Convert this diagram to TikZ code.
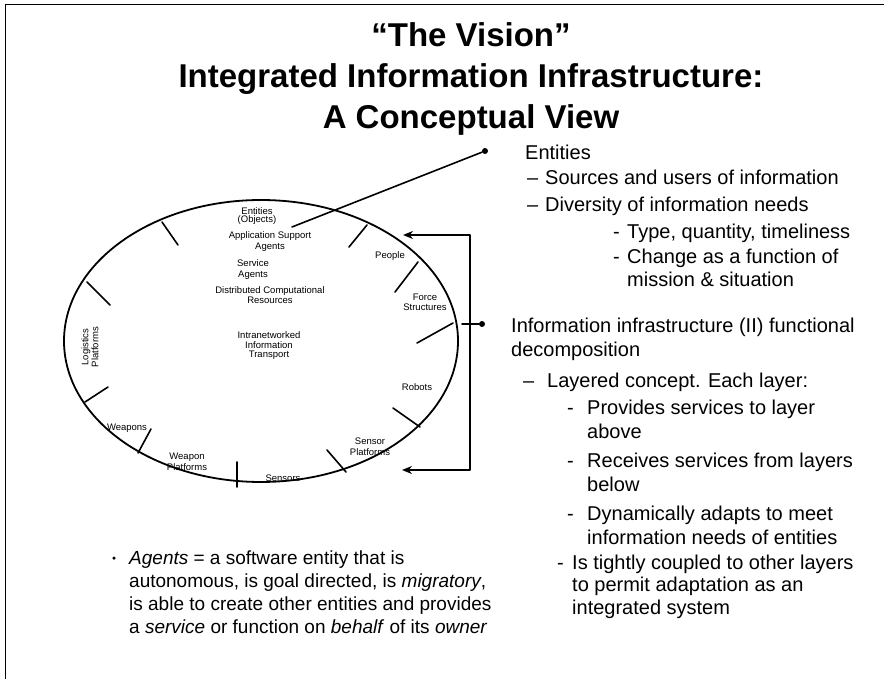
\documentclass[tikz,border=0pt]{standalone}
\usepackage{fontspec}
\setmainfont{Liberation Sans}
\usetikzlibrary{arrows.meta}

\tikzset{
  ring/.style={font=\fontsize{9.5}{9.5}\selectfont, align=center, inner sep=0pt},
  body/.style={font=\fontsize{20}{24}\selectfont, align=left, anchor=base west, inner sep=0pt},
  note/.style={font=\fontsize{19}{23}\selectfont, align=left, anchor=base west, inner sep=0pt},
  dot/.style={circle, fill=black, inner sep=0pt, minimum size=6pt},
  pointer/.style={line width=1.6pt}
}

\begin{document}
\begin{tikzpicture}[x=1pt, y=-1pt, line cap=round, line join=round]
\useasboundingbox (0,0) rectangle (884,679);

% Frame
\draw[line width=1pt] (5,679) -- (5,5) -- (884,5);

% Title (base = last line)
\node[font=\fontsize{33}{41}\selectfont\bfseries, align=center, anchor=base, inner sep=0pt]
  (title) at (471,129) {“The Vision”\\Integrated Information Infrastructure:\\A Conceptual View};

% Ring
\coordinate (ctr) at (261,341);
\draw[line width=1.8pt] (ctr) ellipse [x radius=197, y radius=141];

% Ticks
\draw[line width=1.6pt] (162,222) -- (178,245);
\draw[line width=1.6pt] (87,282) -- (110,305);
\draw[line width=1.6pt] (85,402) -- (108,387);
\draw[line width=1.6pt] (138,453) -- (151,429);
\draw[line width=1.6pt] (237,462) -- (237,487);
\draw[line width=1.6pt] (346,472) -- (327,450);
\draw[line width=1.6pt] (420,427) -- (393,408);
\draw[line width=1.6pt] (453,323) -- (417,343);
\draw[line width=1.6pt] (418,262) -- (395,292);
\draw[line width=1.6pt] (367,225) -- (349,247);

% Layers
\node[ring, font=\fontsize{9.5}{8.5}\selectfont] (objects) at (257,216) {Entities\\(Objects)};
\node[ring, font=\fontsize{9.5}{11}\selectfont] (appagents) at (270,242) {Application Support\\Agents};
\node[ring, font=\fontsize{9.5}{11}\selectfont] (svcagents) at (253,270) {Service\\Agents};
\node[ring, font=\fontsize{9.5}{7.5}\selectfont] (compres) at (270,295) {Distributed Computational\\Resources};
\node[ring] (transport) at (269,346) {Intranetworked\\Information\\Transport};

% Entities round the ring
\node[ring] (people) at (390,256) {People};
\node[ring, font=\fontsize{9.5}{10}\selectfont] (force) at (425,302) {Force\\Structures};
\node[ring] (robots) at (417,387) {Robots};
\node[ring, font=\fontsize{9.5}{11}\selectfont] (sensplat) at (370,447) {Sensor\\Platforms};
\node[ring] (sensors) at (283,478) {Sensors};
\node[ring, font=\fontsize{9.5}{11}\selectfont] (weapplat) at (187,462) {Weapon\\Platforms};
\node[ring] (weapons) at (127,428) {Weapons};
\node[ring, rotate=90, font=\fontsize{9.5}{10}\selectfont] (logplat) at (90,347) {Logistics\\Platforms};

% Entities bullet
\node[dot] (entdot) at (485,151) {};
\coordinate (entin) at (292,227);
\draw[pointer] (entin) -- (entdot);
\node[body] (entities) at (525,160) {Entities};
\node[body] at (527,185) {–};
\node[body] (sources) at (545,185) {Sources and users of information};
\node[body] at (527,212) {–};
\node[body] (diversity) at (545,212) {Diversity of information needs};
\node[body] at (613,239) {-};
\node[body] (type) at (627,239) {Type, quantity, timeliness};
\node[body] at (613,264) {-};
\node[body, font=\fontsize{20}{23}\selectfont] (change) at (627,287) {Change as a function of\\mission \& situation};

% II bullet and bracket
\node[dot] (iidot) at (482,324) {};
\coordinate (stub) at (462,324);
\draw[pointer] (stub) -- (iidot);
\coordinate (topin) at (403,235);
\coordinate (botin) at (402,470);
\draw[pointer, {Stealth[length=10pt,width=8pt]}-{Stealth[length=10pt,width=8pt]}]
  (topin) -- (470,235) -- (470,470) -- (botin);
\node[body] (infra) at (511,356) {Information infrastructure (II) functional\\decomposition};
\node[body] at (523,387) {–};
\node[body] (layered) at (547,387) {Layered concept. Each layer:};
\node[body] at (567,414) {-};
\node[body] (provides) at (587,438) {Provides services to layer\\above};
\node[body] at (567,467) {-};
\node[body] (receives) at (587,491) {Receives services from layers\\below};
\node[body] at (567,520) {-};
\node[body] (adapts) at (587,544) {Dynamically adapts to meet\\information needs of entities};
\node[body] at (557,569) {-};
\node[body, font=\fontsize{20}{22.5}\selectfont] (coupled) at (572,614) {Is tightly coupled to other layers\\to permit adaptation as an\\integrated system};

% Agents note
\node[dot, minimum size=3.5pt] (agdot) at (114,558) {};
\node[note] (agents) at (129,633.5) {\textit{Agents} = a software entity that is\\autonomous, is goal directed, is \textit{migratory},\\is able to create other entities and provides\\a \textit{service} or function on \textit{behalf} of its \textit{owner}};
\end{tikzpicture}
\end{document}
